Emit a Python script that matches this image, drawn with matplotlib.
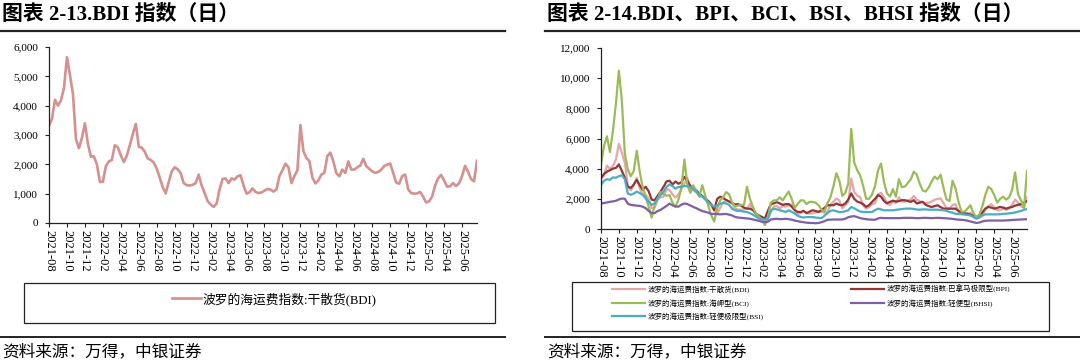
import matplotlib

matplotlib.use("Agg")
import matplotlib.pyplot as plt
import numpy as np
from matplotlib.lines import Line2D
from matplotlib.patches import Rectangle
from matplotlib.ticker import StrMethodFormatter

# axis labels, one every two months
tick_labels = [
    "2021-08", "2021-10", "2021-12", "2022-02", "2022-04", "2022-06",
    "2022-08", "2022-10", "2022-12", "2023-02", "2023-04", "2023-06",
    "2023-08", "2023-10", "2023-12", "2024-02", "2024-04", "2024-06",
    "2024-08", "2024-10", "2024-12", "2025-02", "2025-04", "2025-06",
]

# three readings per month (early / mid / late), 2021-08 .. 2025-07
bdi = [
    3320, 3550, 4200, 4000, 4180, 4600, 5650, 5050, 4400, 2860, 2550, 2900,
    3400, 2700, 2260, 2270, 2000, 1400, 1400, 1940, 2100, 2150, 2650, 2580,
    2300, 2080, 2300, 2650, 3030, 3380, 2600, 2570, 2430, 2200, 2150, 2060,
    1850, 1550, 1220, 1010, 1400, 1760, 1900, 1830, 1700, 1360, 1290, 1280,
    1300, 1360, 1650, 1280, 1020, 750, 630, 550, 660, 1150, 1500, 1520,
    1360, 1520, 1480, 1590, 1630, 1280, 1000, 1050, 1180, 1060, 1020, 1040,
    1100, 1160, 1140, 1070, 1150, 1600, 1800, 2020, 1900, 1360, 1600, 1800,
    3340, 2450, 2220, 2110, 1550, 1350, 1450, 1650, 1710, 2280, 2400, 2100,
    1700, 1590, 1820, 1710, 2100, 1820, 1820, 1900, 1960, 2190, 1940, 1850,
    1760, 1710, 1740, 1820, 1940, 1990, 2030, 1700, 1380, 1340, 1600, 1650,
    1150, 1020, 1000, 1010, 1060, 900, 700, 740, 900, 1280, 1520, 1640,
    1450, 1240, 1250, 1360, 1260, 1350, 1600, 1950, 1750, 1500, 1420, 2120,
]
bpi = [
    3380, 3650, 3800, 3900, 4000, 4050, 4280, 3850, 3400, 2810, 2720, 2950,
    3260, 2900, 2600, 2800, 2500, 1950, 1900, 2200, 2480, 2800, 3150, 3200,
    2950, 3150, 3000, 3100, 3450, 3200, 2850, 2720, 2550, 2350, 2180, 2000,
    1850, 1650, 1250, 2000, 2140, 2050, 1930, 1820, 1720, 1620, 1650, 1550,
    1420, 1350, 1350, 1250, 1020, 900, 800, 690, 1200, 1650, 1700, 1780,
    1700, 1600, 1650, 1650, 1480, 1260, 1130, 1125, 1200, 1050, 1150, 1240,
    1200, 1125, 1250, 1400, 1575, 1575, 1575, 1690, 1600, 1575, 1690, 1950,
    2360, 2000, 1820, 1750, 1650, 1470, 1580, 1800, 2000, 2250, 2140, 1850,
    1700, 1800, 1880, 1820, 1850, 1910, 1910, 1850, 1800, 1910, 1690, 1750,
    1800, 1600, 1520, 1460, 1520, 1575, 1450, 1350, 1350, 1350, 1350, 1350,
    1200, 1100, 1050, 1010, 950, 880, 790, 900, 1100, 1350, 1460, 1420,
    1350, 1400, 1460, 1420, 1350, 1420, 1460, 1550, 1600, 1650, 1750, 1850,
]
bci = [
    4280, 5500, 6150, 5100, 6500, 8300, 10500, 8500, 5000, 3940, 3500, 3850,
    5200, 3800, 2750, 2140, 1480, 750, 1550, 2000, 2450, 2300, 2200, 2250,
    1750, 1460, 1950, 2750, 4600, 2900, 2400, 2900, 2500, 2140, 2900, 2200,
    1550, 900, 500, 1350, 1900, 2100, 2450, 2300, 1750, 1500, 1550, 1600,
    1600, 2800, 2000, 1460, 1020, 830, 600, 250, 700, 1750, 1900, 1900,
    2100, 1900, 2200, 2480, 2000, 1400, 1650, 1900, 1900, 1650, 1800, 1800,
    1750, 1580, 1300, 1150, 1700, 2100, 2810, 3700, 3200, 2200, 2400, 3000,
    6640, 4400, 3900, 3550, 2850, 2000, 2000, 2300, 2850, 3900, 4340, 3100,
    2360, 2150, 2650, 2140, 3300, 2780, 2810, 3050, 3300, 3800, 3600, 3000,
    2550, 2480, 2750, 3150, 3470, 3300, 3600, 2700, 1950, 1850, 3200, 2700,
    1800, 1150, 1150, 1350, 1575, 1050, 790, 950, 1500, 2250, 2800, 2650,
    2250, 1750, 2000, 2140, 1950, 2100, 2600, 3750, 2300, 1900, 1400, 3850,
]
bhsi = [
    1690, 1720, 1760, 1800, 1830, 1870, 1960, 2020, 2000, 1680, 1600, 1570,
    1550, 1530, 1480, 1380, 1200, 1050, 1050, 1190, 1270, 1400, 1530, 1680,
    1570, 1500, 1480, 1620, 1690, 1650, 1560, 1460, 1380, 1280, 1190, 1140,
    1080, 1000, 1000, 990, 970, 990, 1000, 950, 900, 800, 760, 740,
    720, 700, 680, 630, 590, 540, 480, 450, 480, 630, 660, 680,
    650, 660, 680, 650, 620, 560, 520, 480, 450, 420, 400, 400,
    380, 400, 450, 520, 610, 620, 630, 630, 630, 630, 680, 780,
    830, 850, 790, 720, 680, 650, 630, 620, 610, 700, 740, 720,
    720, 720, 720, 720, 720, 730, 740, 740, 740, 730, 720, 720,
    740, 740, 730, 720, 730, 740, 730, 720, 710, 690, 670, 640,
    620, 610, 590, 550, 500, 450, 400, 430, 500, 540, 560, 560,
    560, 560, 560, 560, 570, 580, 600, 610, 620, 630, 640, 650,
]
bsi = [
    2925, 3200, 3300, 3260, 3420, 3400, 3500, 3560, 3300, 2350, 2270, 2350,
    2480, 2380, 2260, 2030, 1820, 1600, 1700, 2030, 2250, 2480, 2800, 2950,
    2850, 2680, 2780, 2810, 2860, 2840, 2780, 2650, 2470, 2250, 2140, 1950,
    1760, 1600, 1480, 1560, 1680, 1720, 1700, 1600, 1350, 1240, 1200, 1190,
    1150, 1125, 1050, 950, 830, 700, 650, 630, 690, 1200, 1350, 1300,
    1240, 1190, 1130, 1240, 1140, 1030, 880, 800, 760, 790, 790, 790,
    760, 740, 720, 880, 1050, 1200, 1240, 1180, 1125, 1125, 1180, 1240,
    1460, 1380, 1250, 1160, 1130, 1125, 1125, 1125, 1250, 1350, 1300, 1240,
    1240, 1240, 1240, 1270, 1300, 1320, 1350, 1350, 1350, 1330, 1290, 1280,
    1300, 1300, 1280, 1280, 1280, 1280, 1260, 1240, 1200, 1125, 1080, 1010,
    1000, 980, 960, 930, 900, 790, 690, 780, 900, 970, 970, 970,
    970, 970, 980, 1010, 1010, 1040, 1060, 1100, 1150, 1200, 1270, 1320,
]

W, H = 1080, 363
SERIF = ["Liberation Serif", "Noto Sans CJK SC"]
plt.rcParams["font.family"] = SERIF


def px_box(x0, y0, x1, y1):
    return [x0 / W, 1 - y1 / H, (x1 - x0) / W, (y1 - y0) / H]


def style_axis(ax, ymax, step):
    ax.set_xlim(0, (len(bdi) - 1) / 3)
    ax.set_ylim(0, ymax)
    ax.set_yticks(np.arange(0, ymax + 1, step))
    ax.yaxis.set_major_formatter(StrMethodFormatter("{x:,.0f}"))
    ax.set_xticks(np.arange(len(tick_labels)) * 2, tick_labels, rotation=-90)
    for side in ("top", "right"):
        ax.spines[side].set_visible(False)
    for side in ("left", "bottom"):
        ax.spines[side].set_linewidth(0.9)
        ax.spines[side].set_color("#222222")
    ax.tick_params(axis="both", length=3, width=0.8, color="#222222")
    ax.tick_params(axis="y", pad=5, labelsize=8)
    ax.tick_params(axis="x", pad=2, labelsize=9)


fig = plt.figure(figsize=(W / 100, H / 100), dpi=100)
x = np.arange(len(bdi)) / 3

# ---- left panel: BDI ----
ax1 = fig.add_axes(px_box(49, 47, 477, 223))
(l_bdi,) = ax1.plot(x, bdi, color="#D4918F", lw=1.9, label="波罗的海运费指数:干散货(BDI)")
style_axis(ax1, 6000, 1000)
fig.legend(handles=[l_bdi], loc="center left", bbox_to_anchor=(172 / W, 1 - 299 / H),
           frameon=False, fontsize=9.2, handlelength=2.3, handletextpad=0.1,
           borderpad=0, borderaxespad=0)

# ---- right panel: five indices ----
ax2 = fig.add_axes(px_box(601, 48, 1027, 229))
r_bdi, = ax2.plot(x, bdi, color="#E6A8A6", lw=1.6, label="波罗的海运费指数:干散货(BDI)")
r_bpi, = ax2.plot(x, bpi, color="#943634", lw=1.6, label="波罗的海运费指数:巴拿马极限型(BPI)")
r_bci, = ax2.plot(x, bci, color="#9BBB59", lw=1.6, label="波罗的海运费指数:海岬型(BCI)")
r_bhsi, = ax2.plot(x, bhsi, color="#7F5FA6", lw=1.6, label="波罗的海运费指数:轻便型(BHSI)")
r_bsi, = ax2.plot(x, bsi, color="#4BACC6", lw=1.6, label="波罗的海运费指数:轻便极限型(BSI)")
style_axis(ax2, 12000, 2000)
fig.legend(handles=[r_bdi, r_bci, r_bsi, r_bpi, r_bhsi], ncol=2, loc="upper left",
           bbox_to_anchor=(612 / W, 1 - 285 / H), frameon=False, fontsize=5.4,
           handlelength=4.4, handletextpad=0.3, labelspacing=0.7, columnspacing=11.7,
           borderpad=0, borderaxespad=0)

# legend frames
fig.add_artist(Rectangle((24 / W, 1 - 323 / H), 471 / W, 40 / H, transform=fig.transFigure,
                         fill=False, lw=0.9, ec="#222222"))
fig.add_artist(Rectangle((572 / W, 1 - 331 / H), 477 / W, 49 / H, transform=fig.transFigure,
                         fill=False, lw=0.9, ec="#222222"))

# titles, rules and source notes
titles = ["图表 2-13.BDI 指数（日）", "图表 2-14.BDI、BPI、BCI、BSI、BHSI 指数（日）"]
for x0, x1, title in [(0, 505, titles[0]), (545, 1080, titles[1])]:
    fig.text((x0 + 2) / W, 1 - 15 / H, title, fontsize=15, fontweight="bold", va="center")
    fig.add_artist(Line2D([x0 / W, x1 / W], [1 - 31 / H] * 2, lw=1.6, color="#222222"))
    fig.add_artist(Line2D([x0 / W, x1 / W], [1 - 337 / H] * 2, lw=1.4, color="#222222"))
    fig.text((x0 + 2) / W, 1 - 352 / H, "资料来源：万得，中银证券", fontsize=12,
             va="center", family=["Noto Sans CJK SC"])

fig.savefig("out.png", dpi=100)
